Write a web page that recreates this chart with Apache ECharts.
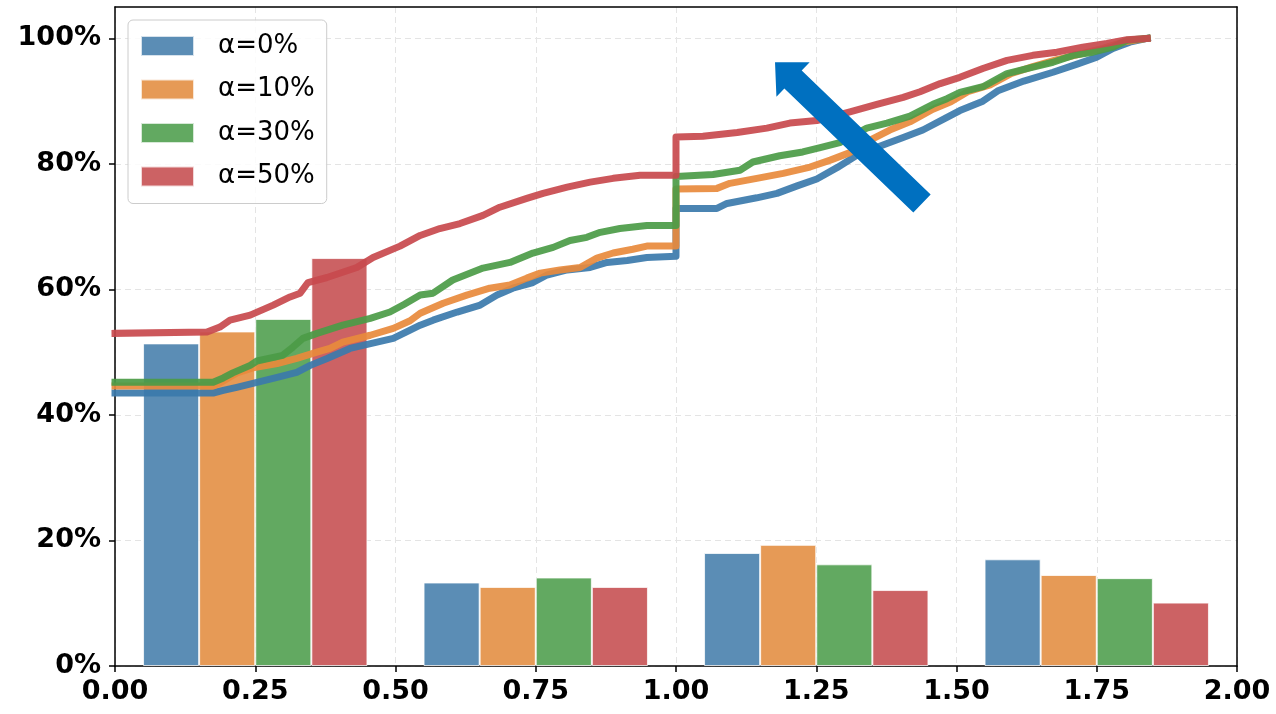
<!DOCTYPE html>
<html>
<head>
<meta charset="utf-8">
<script src="https://cdn.jsdelivr.net/npm/echarts@6/dist/echarts.min.js"></script>
<style>
  html, body { margin: 0; padding: 0; background: #ffffff; }
  #chart { width: 1276px; height: 714px; }
</style>
</head>
<body>
<div id="chart"></div>
<script>
// Series names (one per α level)
const seriesNames = ['α=0%', 'α=10%', 'α=30%', 'α=50%'];

// Histogram bins (centres of the four bar groups on the 0–2 axis)
const binLabels = ['0.25', '0.75', '1.25', '1.75'];

// Share of samples per bin, in percent
const share0  = [51.4, 13.3, 18.0, 17.0];
const share10 = [53.3, 12.6, 19.3, 14.5];
const share30 = [55.3, 14.1, 16.2, 14.0];
const share50 = [65.0, 12.6, 12.1, 10.1];

// Cumulative distribution curves: [x, cumulative %]
const cdf0 = [[0, 43.5], [0.175, 43.5], [0.193, 43.9], [0.217, 44.4], [0.253, 45.2], [0.289, 46.0],
  [0.324, 46.8], [0.348, 47.9], [0.378, 49.0], [0.419, 50.6], [0.467, 51.6], [0.496, 52.2],
  [0.526, 53.5], [0.544, 54.3], [0.567, 55.1], [0.610, 56.4], [0.651, 57.5], [0.681, 59.1],
  [0.709, 60.2], [0.745, 61.1], [0.770, 62.3], [0.806, 63.1], [0.847, 63.5], [0.877, 64.3],
  [0.913, 64.6], [0.948, 65.1], [1.0, 65.3], [1.0, 72.9], [1.073, 72.9], [1.091, 73.7],
  [1.144, 74.6], [1.180, 75.3], [1.216, 76.5], [1.251, 77.6], [1.287, 79.4], [1.323, 81.4],
  [1.369, 83.0], [1.405, 84.2], [1.440, 85.4], [1.483, 87.4], [1.506, 88.5], [1.547, 90.0],
  [1.575, 91.7], [1.620, 93.2], [1.672, 94.6], [1.715, 95.9], [1.750, 97.0], [1.779, 98.4],
  [1.809, 99.4], [1.840, 100]];

const cdf10 = [[0, 44.6], [0.175, 44.6], [0.187, 45.1], [0.217, 46.7], [0.246, 47.5], [0.289, 48.2],
  [0.324, 49.0], [0.360, 50.0], [0.383, 50.6], [0.406, 51.6], [0.455, 52.7], [0.496, 53.8],
  [0.526, 55.0], [0.544, 56.2], [0.585, 57.8], [0.627, 59.1], [0.668, 60.2], [0.704, 60.7],
  [0.734, 61.8], [0.758, 62.6], [0.793, 63.1], [0.829, 63.5], [0.859, 65.0], [0.888, 65.8],
  [0.923, 66.4], [0.948, 66.9], [1.0, 66.9], [1.0, 76.0], [1.073, 76.1], [1.096, 76.9],
  [1.144, 77.7], [1.191, 78.5], [1.239, 79.5], [1.275, 80.6], [1.310, 81.8], [1.346, 83.8],
  [1.381, 85.4], [1.417, 86.7], [1.458, 88.7], [1.490, 89.9], [1.520, 91.5], [1.560, 92.6],
  [1.598, 94.4], [1.636, 95.5], [1.679, 96.6], [1.720, 97.5], [1.761, 98.4], [1.797, 99.4],
  [1.840, 100]];

const cdf30 = [[0, 45.2], [0.175, 45.2], [0.193, 45.9], [0.210, 46.7], [0.241, 47.9], [0.253, 48.6],
  [0.299, 49.5], [0.317, 50.8], [0.335, 52.2], [0.360, 53.0], [0.406, 54.3], [0.455, 55.4],
  [0.490, 56.4], [0.515, 57.6], [0.544, 59.1], [0.567, 59.4], [0.602, 61.5], [0.656, 63.4],
  [0.704, 64.3], [0.745, 65.8], [0.781, 66.7], [0.811, 67.8], [0.841, 68.3], [0.865, 69.1],
  [0.900, 69.7], [0.948, 70.2], [1.0, 70.2], [1.0, 78.0], [1.066, 78.3], [1.114, 79.0],
  [1.137, 80.3], [1.185, 81.3], [1.226, 81.9], [1.257, 82.6], [1.292, 83.4], [1.340, 85.7],
  [1.376, 86.5], [1.417, 87.6], [1.458, 89.5], [1.483, 90.4], [1.506, 91.4], [1.547, 92.3],
  [1.590, 94.4], [1.631, 95.3], [1.672, 96.2], [1.708, 97.3], [1.743, 97.8], [1.779, 98.6],
  [1.804, 99.7], [1.840, 100]];

const cdf50 = [[0, 53.0], [0.164, 53.2], [0.187, 54.0], [0.205, 55.1], [0.241, 55.9], [0.282, 57.5],
  [0.312, 58.8], [0.330, 59.4], [0.344, 61.1], [0.378, 61.9], [0.431, 63.5], [0.460, 65.1],
  [0.508, 66.9], [0.544, 68.6], [0.579, 69.7], [0.615, 70.5], [0.656, 71.8], [0.686, 73.1],
  [0.734, 74.5], [0.763, 75.3], [0.806, 76.3], [0.847, 77.1], [0.888, 77.7], [0.936, 78.2],
  [1.0, 78.2], [1.0, 84.3], [1.048, 84.4], [1.109, 85.0], [1.162, 85.7], [1.203, 86.5],
  [1.251, 86.9], [1.310, 88.3], [1.358, 89.5], [1.405, 90.6], [1.435, 91.5], [1.471, 92.8],
  [1.506, 93.8], [1.547, 95.2], [1.590, 96.5], [1.636, 97.3], [1.679, 97.8], [1.725, 98.6],
  [1.768, 99.2], [1.804, 99.8], [1.840, 100]];

// Annotation arrow, anchored in data coordinates: [x, %]
const arrowTail = [1.4385, 73.7];
const arrowTip = [1.1765, 96.2];

const yTickValues = [0, 20, 40, 60, 80, 100];

const barColors = ['#5b8db5', '#e69a56', '#62a961', '#cc6264'];
const lineColors = ['#3b7aab', '#e88a3c', '#4b9b47', '#c8494d'];
const shares = [share0, share10, share30, share50];
const curves = [cdf0, cdf10, cdf30, cdf50];

const FONT = 'DejaVu Sans';
const chart = echarts.init(document.getElementById('chart'), null, { renderer: 'canvas' });

const gridLine = { show: true, lineStyle: { color: '#e4e4e4', type: [6, 4], width: 1 } };
const spine = { show: true, onZero: false, lineStyle: { color: '#000000', width: 1.5 } };

const series = [];
seriesNames.forEach((name, i) => {
  series.push({
    type: 'bar',
    name: name,
    xAxisIndex: 1,
    yAxisIndex: 0,
    data: shares[i],
    barGap: '0%',
    barCategoryGap: '20%',
    itemStyle: { color: barColors[i], borderColor: 'rgba(255,255,255,0.75)', borderWidth: 1 },
    z: 2,
    silent: true
  });
});
seriesNames.forEach((name, i) => {
  series.push({
    type: 'line',
    name: name,
    xAxisIndex: 0,
    yAxisIndex: 0,
    data: curves[i],
    showSymbol: false,
    symbol: 'none',
    lineStyle: { color: lineColors[i], width: 7, opacity: 0.92, cap: 'square', join: 'round' },
    itemStyle: { color: lineColors[i] },
    z: 3,
    silent: true
  });
});

chart.setOption({
  animation: false,
  backgroundColor: '#ffffff',
  grid: {
    left: 115, right: 39, top: 7, bottom: 48,
    show: false
  },
  legend: {
    data: seriesNames.map((n, i) => ({ name: n, itemStyle: { color: barColors[i] } })),
    orient: 'vertical',
    left: 128, top: 20,
    icon: 'rect',
    itemWidth: 53, itemHeight: 20, itemGap: 17.5,
    padding: [13, 12, 14, 12],
    backgroundColor: 'rgba(255,255,255,0.85)',
    borderColor: '#cccccc', borderWidth: 1, borderRadius: 5,
    textStyle: { fontSize: 26, fontFamily: FONT, color: '#000000', padding: [0, 0, 0, 19] },
    selectedMode: false,
    z: 6
  },
  xAxis: [
    {
      type: 'value', min: 0, max: 2, interval: 0.25, position: 'bottom',
      axisLine: spine,
      axisTick: { show: true, length: 6, lineStyle: { color: '#000000', width: 1.5 } },
      axisLabel: {
        formatter: v => v.toFixed(2), fontSize: 27, fontWeight: 'bold',
        fontFamily: FONT, color: '#000000', margin: 12
      },
      splitLine: gridLine,
      z: 1
    },
    {
      // bins for the bars; its line doubles as the top frame edge
      type: 'category', data: binLabels, position: 'top', boundaryGap: true,
      axisLine: spine, axisTick: { show: false }, axisLabel: { show: false },
      splitLine: { show: false },
      z: 5
    }
  ],
  yAxis: [
    {
      type: 'value', min: 0, max: 105, interval: 20, position: 'left',
      axisLine: spine,
      axisTick: { show: true, length: 6, customValues: yTickValues, lineStyle: { color: '#000000', width: 1.5 } },
      axisLabel: {
        customValues: yTickValues,
        formatter: v => v + '%', fontSize: 27, fontWeight: 'bold',
        fontFamily: FONT, color: '#000000', margin: 14
      },
      splitLine: gridLine,
      z: 1
    },
    {
      // right frame edge
      type: 'value', min: 0, max: 105, position: 'right',
      axisLine: spine, axisTick: { show: false }, axisLabel: { show: false },
      splitLine: { show: false },
      z: 5
    }
  ],
  series: series
});

// Arrow annotation: shaft + triangular head, built from the data-space anchors
function drawArrow() {
  const t = chart.convertToPixel({ xAxisIndex: 0, yAxisIndex: 0 }, arrowTail);
  const p = chart.convertToPixel({ xAxisIndex: 0, yAxisIndex: 0 }, arrowTip);
  const dx = p[0] - t[0], dy = p[1] - t[1];
  const len = Math.hypot(dx, dy);
  const ux = dx / len, uy = dy / len;
  const nx = -uy, ny = ux;
  const shaftHalf = 12.5, headHalf = 24, headLen = 25;
  const bx = p[0] - ux * headLen, by = p[1] - uy * headLen;
  const pts = [
    [t[0] + nx * shaftHalf, t[1] + ny * shaftHalf],
    [bx + nx * shaftHalf, by + ny * shaftHalf],
    [bx + nx * headHalf, by + ny * headHalf],
    [p[0], p[1]],
    [bx - nx * headHalf, by - ny * headHalf],
    [bx - nx * shaftHalf, by - ny * shaftHalf],
    [t[0] - nx * shaftHalf, t[1] - ny * shaftHalf]
  ];
  chart.setOption({
    graphic: [{ type: 'polygon', shape: { points: pts }, style: { fill: '#0070c0' }, z: 10, silent: true }]
  });
}
drawArrow();
</script>
</body>
</html>
